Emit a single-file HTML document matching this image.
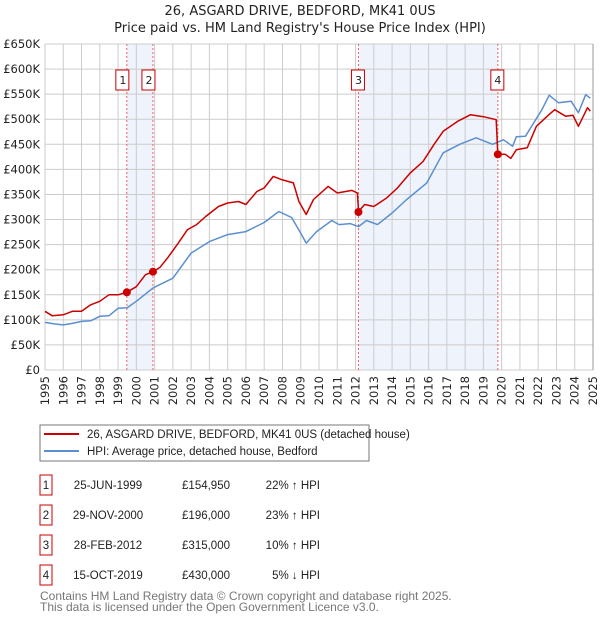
<!DOCTYPE html>
<html><head><meta charset="utf-8"><style>
body{margin:0;background:#fff;font-family:"Liberation Sans","DejaVu Sans",sans-serif;}
svg text{font-family:"DejaVu Sans","Liberation Sans",sans-serif;}
svg text.lib{font-family:"Liberation Sans","DejaVu Sans",sans-serif;}
</style></head><body>
<svg id="c" width="600" height="620" xmlns="http://www.w3.org/2000/svg">
<text x="300" y="15" text-anchor="middle" font-size="13" fill="#222">26, ASGARD DRIVE, BEDFORD, MK41 0US</text>
<text x="300" y="32" text-anchor="middle" font-size="13" fill="#222">Price paid vs. HM Land Registry's House Price Index (HPI)</text>
<g id="plot"></g>
<g>
<rect x="40" y="425" width="329" height="36" fill="#fff" stroke="#777"/>
<line x1="44" y1="434" x2="79" y2="434" stroke="#cc0000" stroke-width="2"/>
<text class="lib" x="87" y="438" font-size="11.5" fill="#222">26, ASGARD DRIVE, BEDFORD, MK41 0US (detached house)</text>
<line x1="44" y1="451" x2="79" y2="451" stroke="#5b8fd0" stroke-width="2"/>
<text class="lib" x="87" y="455" font-size="11.5" fill="#222">HPI: Average price, detached house, Bedford</text>
</g>
<g id="table" font-size="11" fill="#222"></g>
<text class="lib" x="40" y="600" font-size="12" fill="#777">Contains HM Land Registry data © Crown copyright and database right 2025.</text>
<text class="lib" x="40" y="611" font-size="12" fill="#777">This data is licensed under the Open Government Licence v3.0.</text>
</svg>
<script>
const yTicks=[0,50,100,150,200,250,300,350,400,450,500,550,600,650];
const years=[1995,1996,1997,1998,1999,2000,2001,2002,2003,2004,2005,2006,2007,2008,2009,2010,2011,2012,2013,2014,2015,2016,2017,2018,2019,2020,2021,2022,2023,2024,2025];
const hpiT=[1995,1995.5,1996,1996.5,1997,1997.5,1998,1998.5,1999,1999.5,2000,2000.9,2001,2002,2003,2004,2005,2006,2007,2007.8,2008.5,2009,2009.3,2009.87,2010.7,2011.1,2011.7,2012.16,2012.6,2013.2,2014,2014.8,2015.9,2016.8,2017.7,2018.6,2019.5,2020.1,2020.6,2020.8,2021.3,2022.2,2022.6,2023.1,2023.8,2024.2,2024.6,2024.85];
const hpiV=[95,92,90,93,97,98,107,108,123,124,137,163,165,183,233,256,270,276,294,316,304,273,253,276,298,290,292,286,298,290,313,340,373,433,450,463,450,459,446,465,466,519,548,533,536,513,549,542];
const ppT=[1995,1995.4,1996,1996.5,1997,1997.5,1998,1998.5,1999,1999.48,2000,2000.5,2000.91,2001.3,2001.7,2002.3,2002.8,2003.3,2003.8,2004.5,2005,2005.6,2006,2006.6,2007,2007.5,2008,2008.6,2008.9,2009.3,2009.7,2010.5,2011,2011.8,2012.1,2012.16,2012.5,2013,2013.7,2014.3,2015,2015.7,2016.3,2016.8,2017.6,2018.3,2019,2019.7,2019.79,2020.2,2020.5,2020.8,2021.4,2021.9,2022.5,2022.9,2023.5,2023.9,2024.2,2024.7,2024.85];
const ppV=[117,108,110,117,117,130,137,150,150,155,166,190,196,205,223,253,280,290,306,326,333,336,330,356,363,386,379,373,336,310,340,366,353,358,353,316,330,326,343,363,393,416,450,476,496,509,505,499,430,430,422,439,443,486,506,519,506,508,486,523,516];
const saleT=[1999.48,2000.91,2012.16,2019.79];
const saleV=[154.95,196,315,430];
const saleLabels=["1","2","3","4"];
const saleDates=["25-JUN-1999","29-NOV-2000","28-FEB-2012","15-OCT-2019"];
const salePrices=["£154,950","£196,000","£315,000","£430,000"];
const saleHpi=["22% ↑ HPI","23% ↑ HPI","10% ↑ HPI","5% ↓ HPI"];
const X0=45,X1=593,Y0=370,Y1=44;
const xs=t=>X0+(t-1995)/30*(X1-X0);
const ys=v=>Y0-v/650*(Y0-Y1);
const NS="http://www.w3.org/2000/svg";
const plot=document.getElementById('plot');
function mk(tag,attrs,parent){const e=document.createElementNS(NS,tag);for(const k in attrs)e.setAttribute(k,attrs[k]);(parent||plot).appendChild(e);return e;}
for(const [a,b] of [[0,1],[2,3]]){
 const r=mk('rect',{x:xs(saleT[a]),y:Y1,width:xs(saleT[b])-xs(saleT[a]),height:Y0-Y1,fill:'#eef3fc'});
 
 
}
years.forEach(y=>{
 const l=mk('line',{x1:xs(y),x2:xs(y),y1:Y1,y2:Y0,stroke:'#ccc','stroke-width':1});
 
 
 const t=mk('text',{transform:`translate(${xs(y)+4},${Y0+6}) rotate(-90)`,'text-anchor':'end','font-size':11.5,fill:'#222'});
 t.textContent=y;
 
 
});
yTicks.forEach(v=>{
 const l=mk('line',{x1:X0,x2:X1,y1:ys(v),y2:ys(v),stroke:'#ccc','stroke-width':1});
 
 
 const t=mk('text',{x:X0-5,y:ys(v)+4,'text-anchor':'end','font-size':11.5,fill:'#222'});
 t.textContent=v===0?'£0':'£'+v+'K';
 
 
});
saleT.forEach((t,i)=>{
 const l=mk('line',{x1:xs(t),x2:xs(t),y1:Y1,y2:Y0,stroke:'#f06060','stroke-width':1,'stroke-dasharray':'2,2'});
 
 
 const r=mk('rect',{x:xs(t)-7-(i<2?4:0),y:70,width:13,height:20,fill:'#fff',stroke:'#cc0000'});
 
 
 const tx=mk('text',{x:xs(t)-(i<2?4:0),y:84,'text-anchor':'middle','font-size':11,fill:'#222'});
 tx.textContent=saleLabels[i];
 
 
});
function line(T,V,col,name){
 const p=mk('polyline',{points:T.map((t,i)=>xs(t).toFixed(1)+','+ys(V[i]).toFixed(1)).join(' '),fill:'none',stroke:col,'stroke-width':1.5,'stroke-linejoin':'round'});
 
 
}
line(hpiT,hpiV,'#5b8fd0','hpi-line');
line(ppT,ppV,'#cc0000','property-price-line');
saleT.forEach((t,i)=>{
 const c=mk('circle',{cx:xs(t),cy:ys(saleV[i]),r:4,fill:'#cc0000'});
 
 
});
mk('line',{x1:X1,x2:X1,y1:Y1,y2:Y0,stroke:'#999','stroke-width':1});
const tb=document.getElementById('table');
saleLabels.forEach((lab,i)=>{
 const cy=485+i*30;
 const r=mk('rect',{x:40,y:cy-10,width:12,height:20,fill:'#fff',stroke:'#cc0000'},tb);
 
 
 const cells=[[46,'middle',lab],[108,'middle',saleDates[i]],[230,'end',salePrices[i]],[320,'end',saleHpi[i]]];
 cells.forEach(([x,a,s],j)=>{
  const t=mk('text',{x:x,y:cy+4,'text-anchor':a,'font-size':11.5,fill:'#222','class':'lib'},tb);
  t.textContent=s;
  
  
 });
});
</script>
</body></html>
